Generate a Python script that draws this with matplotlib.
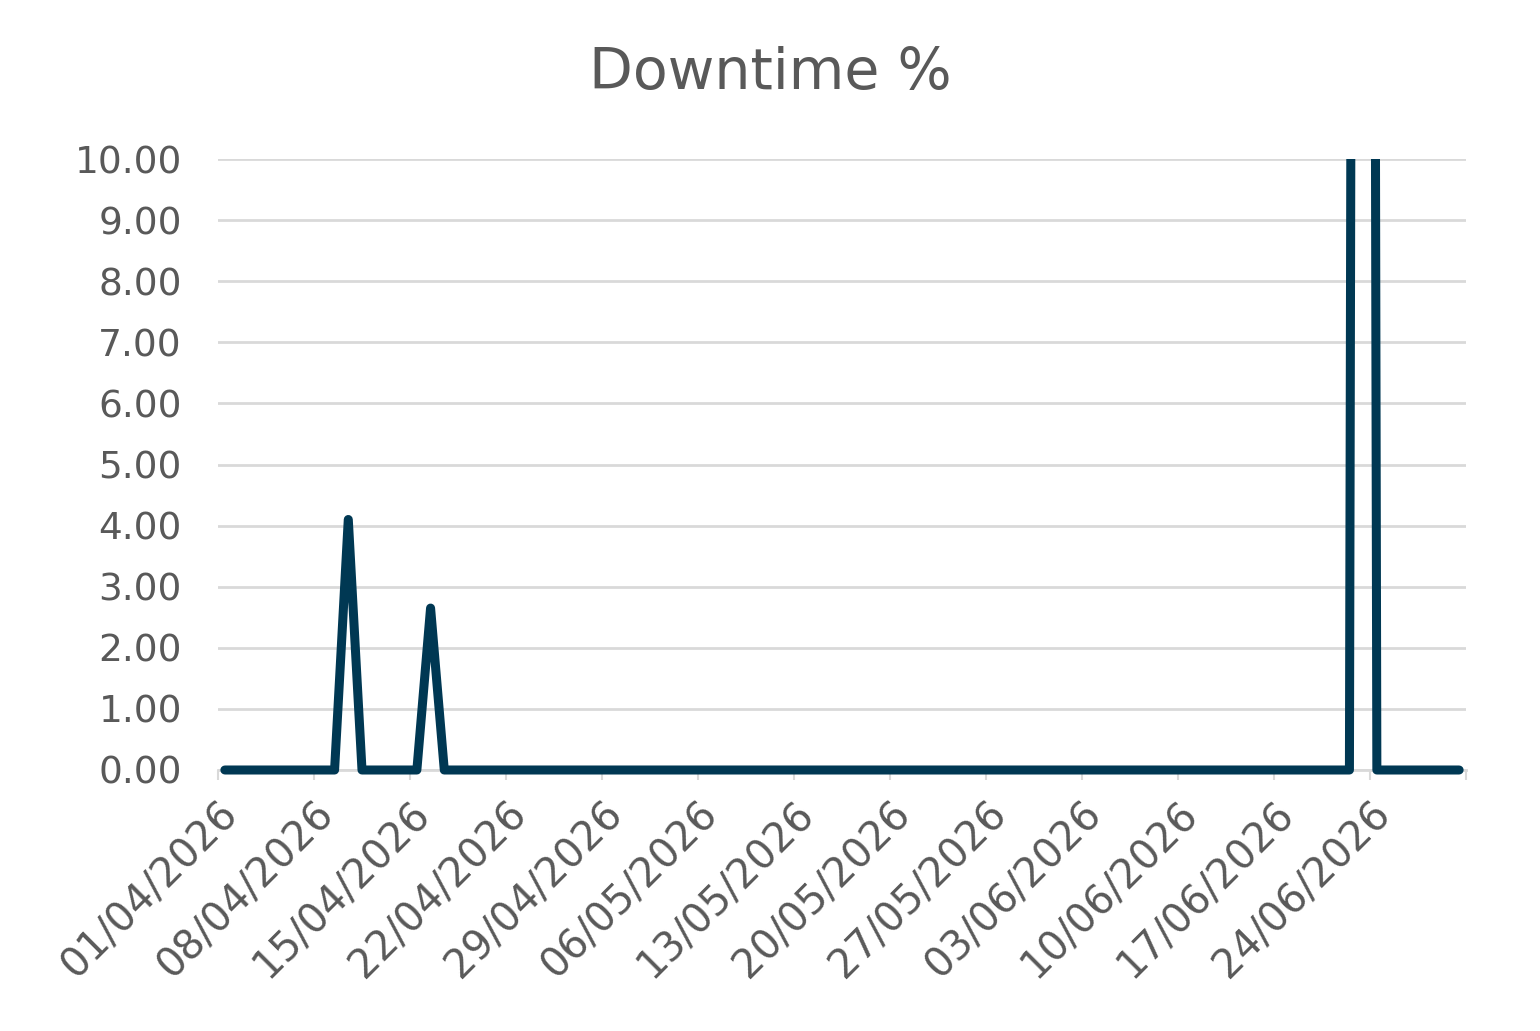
import matplotlib
matplotlib.use("Agg")
import matplotlib.pyplot as plt
from matplotlib.transforms import Bbox, TransformedBbox

# Daily downtime %, 01/04/2026 .. 30/06/2026 (91 days)
day_index = list(range(91))
downtime = [
    0, 0, 0, 0, 0, 0, 0, 0, 0, 4.1,   # 01/04 - 10/04
    0, 0, 0, 0, 0, 2.65, 0, 0, 0, 0,  # 11/04 - 20/04
    0, 0, 0, 0, 0, 0, 0, 0, 0, 0,     # 21/04 - 30/04
    0, 0, 0, 0, 0, 0, 0, 0, 0, 0,     # 01/05 - 10/05
    0, 0, 0, 0, 0, 0, 0, 0, 0, 0,     # 11/05 - 20/05
    0, 0, 0, 0, 0, 0, 0, 0, 0, 0,     # 21/05 - 30/05
    0, 0, 0, 0, 0, 0, 0, 0, 0, 0,     # 31/05 - 09/06
    0, 0, 0, 0, 0, 0, 0, 0, 0, 0,     # 10/06 - 19/06
    0, 0, 0, 100, 0, 0, 0, 0, 0, 0,   # 20/06 - 29/06
    0,                                # 30/06
]
tick_days = [0, 7, 14, 21, 28, 35, 42, 49, 56, 63, 70, 77, 84, 91]
tick_labels = ["01/04/2026", "08/04/2026", "15/04/2026", "22/04/2026",
               "29/04/2026", "06/05/2026", "13/05/2026", "20/05/2026",
               "27/05/2026", "03/06/2026", "10/06/2026", "17/06/2026",
               "24/06/2026", ""]
y_ticks = [0, 1, 2, 3, 4, 5, 6, 7, 8, 9, 10]

TEXT = "#595959"
GRID = "#d9d9d9"
LINE = "#003853"

fig = plt.figure(figsize=(15.4, 10.31), dpi=100)
ax = fig.add_axes([218 / 1540, 1 - 770 / 1031, (1466 - 218) / 1540, (770 - 159) / 1031])

# Points plotted in the middle of each day (between tick marks)
xs = [d + 0.5 for d in day_index]
line, = ax.plot(xs, downtime, color=LINE, lw=6.5, solid_joinstyle="round",
                solid_capstyle="round", zorder=3)
clip = TransformedBbox(Bbox([[-2, -1], [93, 10]]), ax.transData)
line.set_clip_box(clip)
line.set_clip_on(True)

ax.set_xlim(0, 91)
ax.set_ylim(0, 10)
ax.set_yticks(y_ticks)
ax.set_yticklabels([f"{v:.2f}" for v in y_ticks])
ax.set_xticks(tick_days)
ax.set_xticklabels(tick_labels, rotation=45, ha="right", rotation_mode="anchor")

ax.grid(axis="y", color=GRID, lw=2)
ax.set_axisbelow(True)
for s in ["top", "right", "left"]:
    ax.spines[s].set_visible(False)
ax.spines["bottom"].set_color(GRID)
ax.spines["bottom"].set_linewidth(2)

ax.tick_params(axis="y", length=0, pad=26, labelsize=27, labelcolor=TEXT)
ax.tick_params(axis="x", length=7, width=1.5, color=GRID, pad=10,
               labelsize=29, labelcolor=TEXT)

fig.text(0.5, 1 - 73 / 1031, "Downtime %", ha="center", va="center",
         fontsize=41, color=TEXT)

fig.savefig("out.png", dpi=100)
